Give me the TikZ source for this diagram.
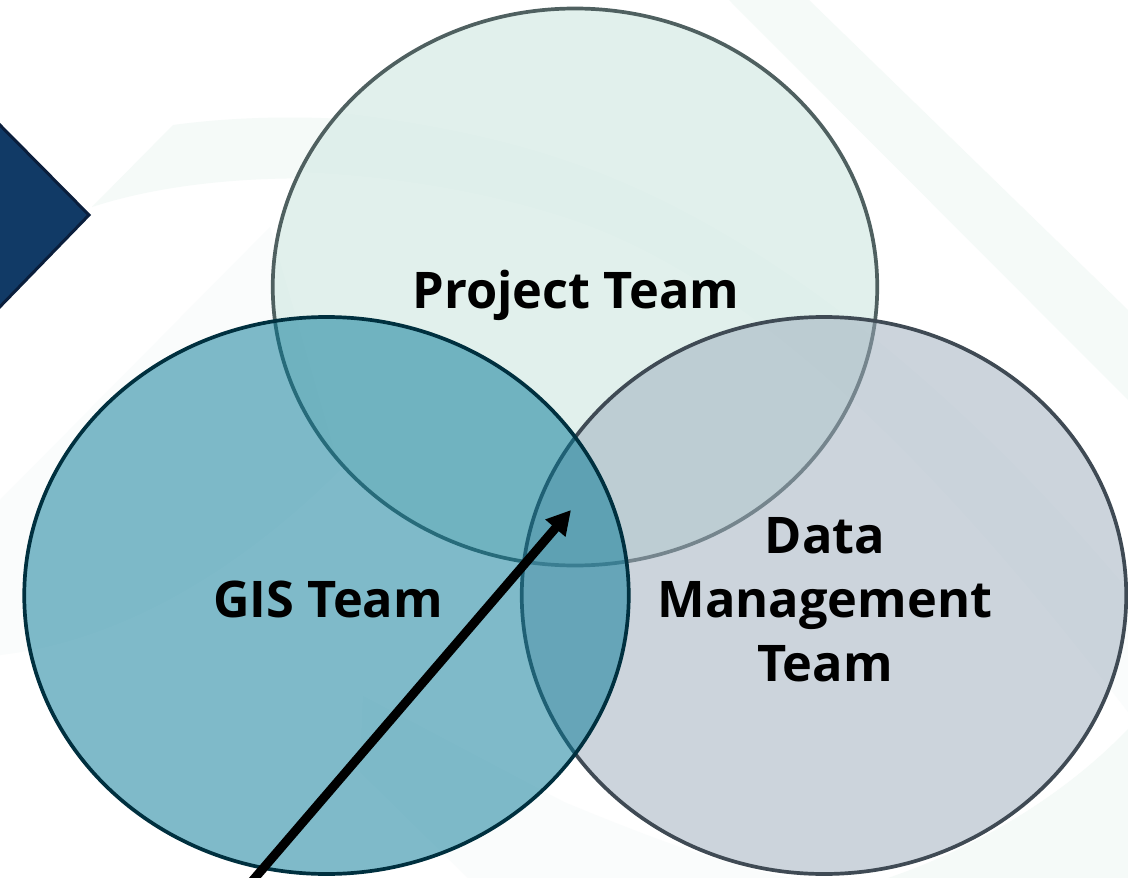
\documentclass[tikz,border=0pt]{standalone}
\usepackage{fontspec}
\setmainfont{Open Sans}
\usetikzlibrary{arrows.meta,shapes.geometric}
\definecolor{wm}{HTML}{F5FAF8}
\definecolor{wmfaint}{HTML}{FAFCFC}
\definecolor{diamondfill}{HTML}{113A66}
\definecolor{diamondline}{HTML}{0A1E3C}
\definecolor{projfill}{HTML}{C5E3DB}
\definecolor{projline}{HTML}{4F6060}
\definecolor{datafill}{HTML}{9BABBB}
\definecolor{dataline}{HTML}{3F4A54}
\definecolor{gisfill}{HTML}{017795}
\definecolor{gisline}{HTML}{00303F}
\tikzset{
  venn/.style={ellipse,draw,line width=3.7pt,inner sep=0pt,minimum width=604.5pt,minimum height=557pt,fill opacity=0.5},
  lbl/.style={font=\fontsize{50.5}{64}\bfseries\selectfont,text=black,anchor=base,align=center,inner sep=0pt},
  wmshape/.style={fill=wm,draw=none},
  wmsoft/.style={fill=wmfaint,draw=none}
}
\begin{document}
\begin{tikzpicture}[x=1pt,y=-1pt]
\useasboundingbox (0,0) rectangle (1128,878);
\fill[white] (0,0) rectangle (1128,878);
% watermark
\fill[wmshape] (729,0) -- (809,0) -- (1128,310) -- (1128,400) -- cycle;
\fill[wmshape] (92,207) -- (173,125) .. controls (300,108) and (450,120) .. (564,160)
  -- (564,217) .. controls (420,170) and (220,165) .. cycle;
\fill[white] (575,287) ellipse [x radius=302,y radius=278];
\fill[wmsoft] (340,113) .. controls (420,122) and (500,138) .. (564,160)
  .. controls (700,205) and (900,320) .. (1128,590) -- (1128,712)
  .. controls (950,480) and (760,280) .. (564,217)
  .. controls (480,190) and (390,176) .. (302,172) -- cycle;
\fill[wmsoft] (270,227) -- (0,500) -- (0,655) .. controls (130,640) and (250,560) .. (340,470) -- cycle;
\fill[wmsoft] (363,696) -- (564,802) .. controls (680,850) and (730,865) .. (790,878) -- (468,878) -- (360,772) -- cycle;
\fill[wmshape] (1128,729) .. controls (1060,800) and (970,850) .. (888,878) -- (1128,878) -- cycle;
% diamond
\fill[diamondfill,draw=diamondline,line width=3pt,line join=miter] (-10,115) -- (89,215) -- (-10,317) -- cycle;
% circles
\node[venn,fill=projfill,draw=projline] (project) at (575,287) {};
\node[venn,fill=datafill,draw=dataline] (data) at (824,595.5) {};
\node[venn,fill=gisfill,draw=gisline] (gis) at (326.5,595.5) {};
% labels
\node[lbl] (tproject) at (576,308) {Project Team};
\node[lbl] (tgis) at (328,617) {GIS Team};
\node[lbl] (tdata) at (825,681) {Data\\Management\\Team};
% arrow
\coordinate (tail) at (248,886);
\coordinate (tip) at (571,510);
\draw[line width=9pt,black,-{Triangle[length=24pt,width=25pt]}] (tail) -- (tip);
\end{tikzpicture}
\end{document}
